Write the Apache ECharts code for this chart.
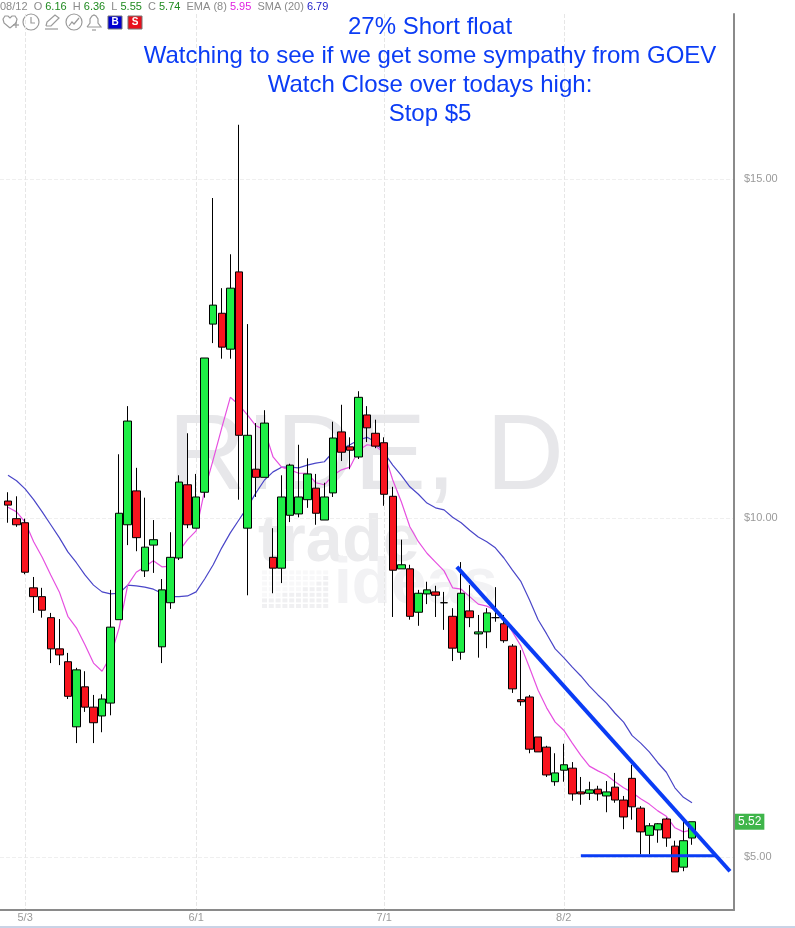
<!DOCTYPE html>
<html>
<head>
<meta charset="utf-8">
<title>RIDE, D</title>
<script src="https://cdn.jsdelivr.net/npm/echarts@6/dist/echarts.min.js"></script>
<style>
html, body { margin: 0; padding: 0; background: #fff; }
#main { width: 795px; height: 928px; }
</style>
</head>
<body>
<div id="main"></div>
<script>
// daily candles, each row: open, close, low, high
var candles = [
[10.25,10.19,9.93,10.38],[9.99,9.90,9.87,10.32],[9.93,9.20,9.17,9.99],[8.97,8.84,8.60,9.13],
[8.84,8.64,8.53,8.97],[8.53,8.07,7.86,8.60],[8.07,7.98,7.83,8.51],[7.88,7.37,7.33,8.01],
[6.92,7.76,6.68,7.79],[7.51,7.21,7.14,7.74],[7.21,6.98,6.68,7.39],[7.08,7.33,6.84,7.40],
[7.27,8.39,7.09,8.94],[8.50,10.07,8.50,10.94],[9.90,11.43,9.60,11.65],[10.40,9.71,9.51,10.74],
[9.22,9.57,9.13,10.30],[9.60,9.68,9.19,9.97],[8.10,8.94,7.86,9.10],[8.75,9.42,8.66,9.79],
[9.41,10.53,9.38,10.63],[10.49,9.90,9.85,11.25],[9.85,10.31,9.85,10.65],[10.38,12.36,10.30,12.36],
[12.86,13.14,12.58,14.72],[13.02,12.52,12.35,13.39],[12.49,13.39,12.35,13.89],[13.63,11.22,10.27,15.80],
[9.85,11.22,8.86,12.86],[10.72,10.60,10.31,11.40],[10.60,11.40,10.60,11.59],[9.42,9.26,8.89,9.85],
[9.26,10.31,9.04,10.63],[10.04,10.78,9.94,10.80],[10.06,10.31,10.01,11.08],[10.27,10.65,10.15,10.88],
[10.44,10.07,9.90,10.65],[9.97,10.31,9.97,10.52],[10.37,11.18,10.31,11.42],[11.27,10.97,10.84,11.67],
[11.05,11.00,10.72,11.19],[10.90,11.78,10.87,11.87],[11.52,11.33,11.12,11.65],[11.25,11.06,11.03,11.45],
[11.11,10.35,10.18,11.19],[10.32,9.23,8.54,10.46],[9.25,9.31,9.25,9.68],[9.25,8.55,8.50,9.31],
[8.61,8.89,8.41,8.94],[8.88,8.94,8.73,9.06],[8.91,8.86,8.54,9.00],[8.75,8.75,8.35,8.91],
[8.55,8.08,7.89,8.67],[8.02,8.89,7.91,9.35],[8.63,8.53,8.39,9.01],[8.29,8.32,7.94,8.57],
[8.32,8.60,8.08,8.67],[8.53,8.53,8.47,8.98],[8.44,8.19,8.16,8.57],[8.11,7.48,7.42,8.14],
[7.32,7.29,7.23,8.05],[7.36,6.59,6.53,7.39],[6.77,6.55,6.55,6.77],[6.62,6.21,6.18,6.64],
[6.11,6.24,6.05,6.53],[6.28,6.36,6.11,6.67],[6.31,5.93,5.83,6.40],[5.96,5.93,5.77,6.18],
[5.94,5.99,5.84,6.11],[6.00,5.93,5.83,6.05],[5.90,5.96,5.66,6.12],[6.03,5.84,5.80,6.24],
[5.84,5.59,5.41,5.90],[6.16,5.74,5.55,6.36],[5.72,5.37,5.04,5.75],[5.32,5.46,5.04,5.50],
[5.40,5.49,5.21,5.50],[5.56,5.28,5.15,5.58],[5.16,4.78,4.78,5.24],[4.85,5.24,4.79,5.55],
[5.28,5.52,5.18,5.52]
];

var ema8 = [10.16,10.09,9.94,9.65,9.42,9.16,8.91,8.55,8.38,8.13,7.86,7.74,7.96,8.38,9.01,9.20,
9.28,9.37,9.28,9.29,9.51,9.68,9.81,10.41,10.86,11.33,11.78,11.67,11.52,11.36,11.30,10.90,
10.75,10.71,10.66,10.66,10.52,10.49,10.63,10.71,10.75,11.00,11.08,11.06,10.96,10.56,10.24,9.87,
9.65,9.48,9.35,9.22,8.97,8.95,8.84,8.73,8.70,8.64,8.53,8.32,8.11,7.79,7.46,7.20,
6.99,6.87,6.68,6.50,6.34,6.27,6.21,6.11,6.02,5.95,5.86,5.78,5.68,5.60,5.43,5.37,5.40];

var sma20 = [10.63,10.55,10.43,10.27,10.09,9.90,9.71,9.50,9.34,9.16,9.01,8.91,8.88,8.89,9.01,9.00,
8.98,8.95,8.89,8.84,8.84,8.85,8.91,9.10,9.31,9.56,9.78,9.97,10.16,10.37,10.56,10.68,
10.75,10.75,10.74,10.78,10.81,10.83,10.97,11.02,11.08,11.15,11.19,11.12,10.96,10.78,10.63,10.46,
10.35,10.22,10.15,10.12,10.01,9.93,9.82,9.72,9.65,9.56,9.41,9.23,9.06,8.79,8.50,8.29,
8.07,7.94,7.80,7.67,7.52,7.39,7.27,7.12,6.99,6.79,6.68,6.55,6.39,6.25,6.02,5.88,5.80];

// drawn trend lines, [bar number, price]
var downTrend = [[52.5,9.28],[84.44,4.79]];
var support = [[67,5.02],[82.9,5.02]];

var dateBars = [2,22,44,65];
var dateLabels = ['5/3','6/1','7/1','8/2'];
var priceTicks = [5,10,15];
var lastPrice = 5.52;

var noteLines = ['27% Short float','Watching to see if we get some sympathy from GOEV','Watch Close over todays high:','Stop $5'];

function withBar(arr) {
    return arr.map(function (v, i) { return [i].concat(v); });
}

var gray = '#9a9a9a';
var arial = '"Liberation Sans", Arial, sans-serif';
var myChart = echarts.init(document.getElementById('main'), null, {renderer: 'canvas'});

// little icon helper for the toolbar row
function icon(type, shape) {
    return {type: type, shape: shape, style: {stroke: gray, fill: 'none', lineWidth: 1.2}};
}

// pale squares of the trade-ideas logo, darker where its rising bars are
var logoCols = [2, 2, 2, 3, 3, 3, 4, 4, 5, 6];
var logoDots = [];
logoCols.forEach(function (n, c) {
    for (var r = 0; r < 7; r++) {
        logoDots.push({type: 'rect', z: -10, shape: {x: 262 + c * 6.8, y: 604 - r * 5.6, width: 5, height: 4}, style: {fill: r < n ? '#f0f0f2' : '#f8f8f9'}});
    }
});

myChart.setOption({
    animation: false,
    backgroundColor: '#fff',
    textStyle: {fontFamily: arial},
    title: {
        text: noteLines.join('\n'),
        left: 425,
        top: 8,
        textAlign: 'center',
        textStyle: {color: '#0b3cf5', fontSize: 24, fontWeight: 'normal', lineHeight: 29, fontFamily: arial}
    },
    grid: {left: 0, right: 61, top: 14, bottom: 18},
    xAxis: {
        type: 'value',
        min: -0.936,
        max: 84.912,
        axisLine: {onZero: false, lineStyle: {color: '#8a8a8a', width: 2}},
        axisTick: {show: false, customValues: dateBars},
        axisLabel: {
            customValues: dateBars,
            color: gray,
            fontSize: 11,
            margin: 2,
            formatter: function (v) { return dateLabels[dateBars.indexOf(v)]; }
        },
        splitLine: {show: true, lineStyle: {color: '#e6e6e6', type: 'dashed'}}
    },
    yAxis: {
        type: 'value',
        position: 'right',
        min: 4.218,
        max: 17.434,
        axisLine: {show: true, onZero: false, lineStyle: {color: '#8a8a8a', width: 2}},
        axisTick: {show: false, customValues: priceTicks},
        axisLabel: {
            customValues: priceTicks,
            color: gray,
            fontSize: 11,
            margin: 10,
            formatter: function (v) { return '$' + v.toFixed(2); }
        },
        splitLine: {show: true, lineStyle: {color: '#efefef', type: 'dashed'}}
    },
    series: [
        {
            name: 'SMA (20)',
            type: 'line',
            z: 3,
            data: withBar(sma20),
            symbol: 'none',
            lineStyle: {color: '#4a46c8', width: 1.2}
        },
        {
            name: 'EMA (8)',
            type: 'line',
            z: 3,
            data: withBar(ema8),
            symbol: 'none',
            lineStyle: {color: '#e650e0', width: 1.2}
        },
        {
            name: 'RIDE',
            type: 'candlestick',
            z: 4,
            barWidth: 8,
            data: withBar(candles),
            itemStyle: {
                color: '#1eee46',
                color0: '#f8141e',
                borderColor: '#000',
                borderColor0: '#000',
                borderWidth: 1
            }
        },
        {
            name: 'trend',
            type: 'line',
            z: 5,
            data: downTrend,
            symbol: 'none',
            lineStyle: {color: '#0a3cf5', width: 4}
        },
        {
            name: 'support',
            type: 'line',
            z: 5,
            clip: false,
            data: support,
            symbol: 'none',
            lineStyle: {color: '#0a3cf5', width: 3},
            markLine: {
                silent: true,
                symbol: 'none',
                lineStyle: {color: 'transparent', width: 1},
                data: [{yAxis: lastPrice}],
                label: {
                    show: true,
                    position: 'end',
                    distance: 1,
                    formatter: function (p) { return p.value.toFixed(2); },
                    backgroundColor: '#3fb54a',
                    color: '#fff',
                    fontSize: 12,
                    padding: [2, 3]
                }
            }
        }
    ],
    graphic: [
        // watermark
        {type: 'text', z: -10, left: 168, top: 405, style: {text: 'RIDE, D', font: '108px "Liberation Sans", Arial', fill: '#e7e7ea'}},
        {type: 'text', z: -10, left: 258, top: 510, style: {text: 'trade', font: 'bold 66px "Liberation Sans", Arial', fill: '#ebebed'}},
        {type: 'text', z: -10, left: 334, top: 553, style: {text: 'ideas', font: 'bold 64px "Liberation Sans", Arial', fill: '#f2f2f4'}},
        // quote line
        {
            type: 'text', left: 0, top: 1,
            style: {
                text: '{l|08/12  O }{g|6.16}{l|  H }{g|6.36}{l|  L }{g|5.55}{l|  C }{g|5.74}{l|  EMA (8) }{m|5.95}{l|  SMA (20) }{b|6.79}',
                rich: {
                    l: {fill: '#8a8a8a', font: '11px "Liberation Sans", Arial'},
                    g: {fill: '#1f8a1f', font: '11px "Liberation Sans", Arial'},
                    m: {fill: '#e020e0', font: '11px "Liberation Sans", Arial'},
                    b: {fill: '#1a1ac8', font: '11px "Liberation Sans", Arial'}
                }
            }
        },
        // toolbar icons
        icon('polyline', {points: [[10, 28], [4, 23], [3, 19], [5, 16], [8, 16], [10, 18], [12, 16], [15, 16], [17, 19], [16, 23], [10, 28]]}),
        icon('polyline', {points: [[13, 25], [19, 25]]}),
        icon('polyline', {points: [[16, 22], [16, 28]]}),
        icon('circle', {cx: 31, cy: 22, r: 8}),
        icon('polyline', {points: [[31, 17], [31, 23], [35, 23]]}),
        icon('polyline', {points: [[46, 26], [47, 22], [55, 15], [59, 18], [51, 26], [46, 26]]}),
        icon('polyline', {points: [[45, 29], [58, 29]]}),
        icon('circle', {cx: 74, cy: 22, r: 8}),
        icon('polyline', {points: [[69, 26], [72, 22], [74, 24], [79, 18]]}),
        icon('polyline', {points: [[87, 27], [90, 23], [90, 19], [92, 16], [94, 15], [96, 16], [98, 19], [98, 23], [101, 27], [87, 27]]}),
        icon('polyline', {points: [[92, 30], [96, 30]]}),
        {type: 'rect', shape: {x: 108, y: 16, width: 14, height: 13}, style: {fill: '#0000d0', stroke: '#777', lineWidth: 1}},
        {type: 'text', x: 115, y: 22.5, style: {text: 'B', fill: '#fff', font: 'bold 10px "Liberation Sans", Arial', align: 'center', verticalAlign: 'middle'}},
        {type: 'rect', shape: {x: 128, y: 16, width: 14, height: 13}, style: {fill: '#e8101c', stroke: '#777', lineWidth: 1}},
        {type: 'text', x: 135, y: 22.5, style: {text: 'S', fill: '#fff', font: 'bold 10px "Liberation Sans", Arial', align: 'center', verticalAlign: 'middle'}},
        // window edge at the bottom
        {type: 'rect', shape: {x: 0, y: 926, width: 795, height: 2}, style: {fill: '#c9d3e6'}}
    ].concat(logoDots)
});
</script>
</body>
</html>
